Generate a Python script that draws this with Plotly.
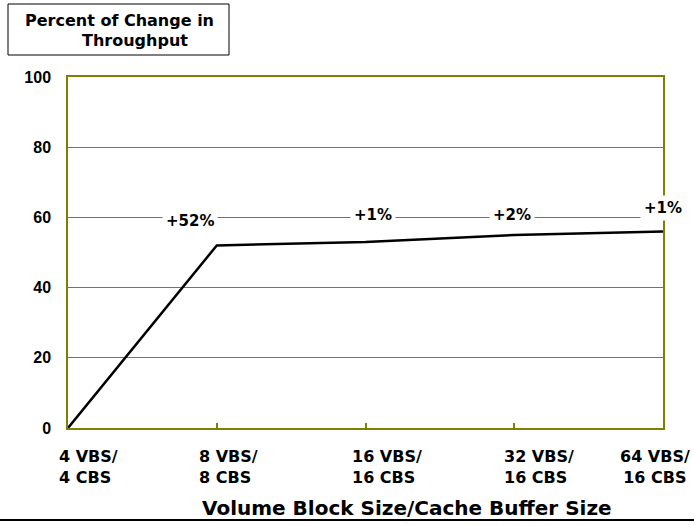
import plotly.graph_objects as go

# ---- data ----
categories = ["4 VBS/<br>4 CBS", "8 VBS/<br>8 CBS", "16 VBS/<br>16 CBS",
              "32 VBS/<br>16 CBS", "64 VBS/<br>16 CBS"]
throughput_change = [0, 52, 53, 55, 56]
change_labels = ["+52%", "+1%", "+2%", "+1%"]
y_ticks = [0, 20, 40, 60, 80, 100]

# ---- layout helpers (positions/styles) ----
change_label_x = [0.82, 2.05, 2.985, 4.0]
change_label_y = [59.0, 60.7, 60.7, 62.7]
cat_label_shift = [-11, -20, -16, -12, -8]
cat_label_anchor = ["left", "left", "left", "left", "center"]
cat_label_align = ["left", "left", "left", "left", "center"]

OLIVE = "#808000"
WIDE = "DejaVu Sans"
ARIAL = "Liberation Sans, Arial"

xs = list(range(len(categories)))

fig = go.Figure()
fig.add_trace(go.Scatter(x=xs, y=throughput_change, mode="lines",
                         line=dict(color="black", width=2.5),
                         hoverinfo="skip", showlegend=False))

annotations = []
for i, lab in enumerate(categories):
    annotations.append(dict(x=xs[i], y=0, xref="x", yref="y", text=lab,
                            showarrow=False, xanchor=cat_label_anchor[i],
                            align=cat_label_align[i], yanchor="top",
                            xshift=cat_label_shift[i], yshift=-17,
                            font=dict(family=WIDE, size=16, color="black", weight="bold")))
for lx, ly, t in zip(change_label_x, change_label_y, change_labels):
    annotations.append(dict(x=lx, y=ly, xref="x", yref="y", text=t, showarrow=False,
                            bgcolor="white", borderpad=3,
                            font=dict(family=WIDE, size=15, color="black", weight="bold")))
# axis title
annotations.append(dict(x=(407 - 68) / 595, y=(428 - 508) / 351, xref="paper", yref="paper",
                        text="Volume Block Size/Cache Buffer Size", showarrow=False,
                        xanchor="center", yanchor="middle",
                        font=dict(family=WIDE, size=20, color="black", weight="bold")))
# title box text
annotations.append(dict(x=(25 - 68) / 595, y=(428 - 21) / 351, xref="paper", yref="paper",
                        text="Percent of Change in", showarrow=False,
                        xanchor="left", yanchor="middle", xshift=-2,
                        font=dict(family=WIDE, size=16, color="black", weight="bold")))
annotations.append(dict(x=(82 - 68) / 595, y=(428 - 41) / 351, xref="paper", yref="paper",
                        text="Throughput", showarrow=False,
                        xanchor="left", yanchor="middle", xshift=-2,
                        font=dict(family=WIDE, size=16, color="black", weight="bold")))

shapes = [
    dict(type="rect", xref="paper", yref="paper",
         x0=(8 - 68) / 595, x1=(229 - 68) / 595,
         y0=(428 - 55) / 351, y1=(428 - 4) / 351,
         line=dict(color="black", width=1), fillcolor="white"),
    dict(type="line", xref="paper", yref="paper",
         x0=-68 / 595, x1=(694 - 68) / 595,
         y0=(428 - 520) / 351, y1=(428 - 520) / 351,
         line=dict(color="black", width=2)),
]

fig.update_layout(
    width=694, height=525,
    margin=dict(l=68, r=31, t=77, b=97),
    paper_bgcolor="white", plot_bgcolor="white",
    annotations=annotations, shapes=shapes,
    xaxis=dict(range=[0, 4], tickvals=xs, showticklabels=False,
               ticks="inside", ticklen=5, tickcolor=OLIVE, tickwidth=1.5,
               showgrid=False, zeroline=False,
               showline=True, linecolor=OLIVE, linewidth=1.5, mirror=True),
    yaxis=dict(range=[0, 100], tickvals=y_ticks, ticks="",
               tickfont=dict(family=ARIAL, size=16, color="black", weight="bold"),
               ticklabelstandoff=12,
               showgrid=True, gridcolor=OLIVE, gridwidth=1,
               zeroline=False, showline=True, linecolor=OLIVE, linewidth=1.5, mirror=True),
)

fig.write_html("out.html", config={"displayModeBar": False},
               post_script="document.body.style.margin='0';document.body.style.padding='0';")
